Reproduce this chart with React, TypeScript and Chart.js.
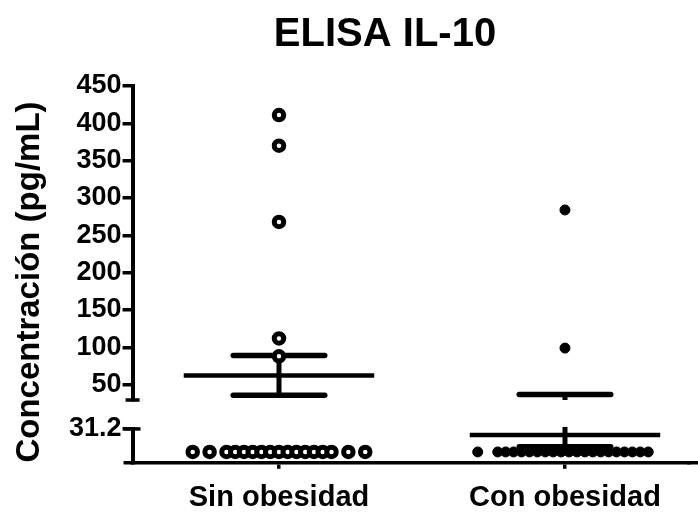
import React, { useEffect, useRef } from "react";
import { Chart, registerables } from "chart.js";

Chart.register(...registerables);

const FONT_FAMILY = "'Liberation Sans', Arial, Helvetica, sans-serif";

const CHART_TITLE = "ELISA IL-10";
const Y_AXIS_TITLE = "Concentración (pg/mL)";
const CATEGORIES = ["Sin obesidad", "Con obesidad"];

// broken y axis: upper and lower segments
const UPPER_TICKS = [50, 100, 150, 200, 250, 300, 350, 400, 450];
const LOWER_TICKS = [31.2];
const UPPER_MIN = 29.5;
const UPPER_MAX = 450;
const LOWER_MIN = 0;
const LOWER_MAX = 31.2;

// individual values (pg/mL)
const SIN_HIGH = [411, 370, 268, 112, 88];
const SIN_LOW = [10, 10, 10, 10, 10, 10, 10, 10, 10, 10, 10, 10, 10, 10, 10, 10, 10];
const CON_HIGH = [284, 99];
const CON_LOW = [10, 10, 10, 10, 10, 10, 10, 10, 10, 10, 10, 10, 10, 10, 10, 10, 10, 10, 10, 10, 10];

// mean and SEM per group
const MEANS = [62.4, 25.7];
const SEMS = [26.6, 11.0];

// horizontal spreading of a row of coincident points (category units)
function rowOffsets(nLeft: number, nInner: number, nRight: number, innerGap: number, outerGap: number, shift = 0): number[] {
  const out: number[] = [];
  const half = (nInner - 1) / 2;
  for (let k = nLeft; k >= 1; k--) out.push(shift - half * innerGap - k * outerGap);
  for (let i = 0; i < nInner; i++) out.push(shift + (i - half) * innerGap);
  for (let k = 1; k <= nRight; k++) out.push(shift + half * innerGap + k * outerGap);
  return out;
}

function toPoints(center: number, values: number[], offsets?: number[]) {
  return values.map((v, i) => ({ x: center + (offsets ? offsets[i] : 0), y: v }));
}

const MEAN_HALF = 0.333;
const CAP_HALF = 0.16;

function yPixel(chart: any, v: number) {
  return v > LOWER_MAX ? chart.scales.yUp.getPixelForValue(v) : chart.scales.yLow.getPixelForValue(v);
}

const meanSemPlugin = {
  id: "meanSem",
  beforeDatasetsDraw(chart: any) {
    const { ctx } = chart;
    const xs = chart.scales.x;
    const up = chart.scales.yUp;
    const lo = chart.scales.yLow;
    ctx.save();
    ctx.strokeStyle = "#000";
    MEANS.forEach((m, i) => {
      const c = i + 1;
      const cx = xs.getPixelForValue(c);
      const hi = m + SEMS[i];
      const lw = m - SEMS[i];
      // vertical bar, split across the axis break
      ctx.lineWidth = 5;
      ctx.lineCap = "butt";
      if (lw < LOWER_MAX) {
        ctx.beginPath();
        ctx.moveTo(cx, lo.getPixelForValue(Math.max(lw, LOWER_MIN)));
        ctx.lineTo(cx, lo.getPixelForValue(Math.min(hi, LOWER_MAX)) - 2);
        ctx.stroke();
      }
      if (hi > LOWER_MAX) {
        ctx.beginPath();
        ctx.moveTo(cx, up.getPixelForValue(Math.max(lw, UPPER_MIN)));
        ctx.lineTo(cx, up.getPixelForValue(hi));
        ctx.stroke();
      }
      // mean
      ctx.lineWidth = 4.5;
      const my = yPixel(chart, m);
      ctx.beginPath();
      ctx.moveTo(xs.getPixelForValue(c - MEAN_HALF), my);
      ctx.lineTo(xs.getPixelForValue(c + MEAN_HALF), my);
      ctx.stroke();
      // SEM caps
      ctx.lineWidth = 5.5;
      ctx.lineCap = "round";
      [hi, lw].forEach((v) => {
        const y = yPixel(chart, v);
        ctx.beginPath();
        ctx.moveTo(xs.getPixelForValue(c - CAP_HALF), y);
        ctx.lineTo(xs.getPixelForValue(c + CAP_HALF), y);
        ctx.stroke();
      });
    });
    ctx.restore();
  },
};

const decorPlugin = {
  id: "decor",
  afterDraw(chart: any) {
    const { ctx, chartArea, width } = chart;
    const up = chart.scales.yUp;
    const lo = chart.scales.yLow;
    ctx.save();
    ctx.strokeStyle = "#000";
    ctx.lineCap = "butt";
    ctx.lineWidth = 3.5;
    const ax = up.right;
    // break caps
    ctx.beginPath();
    ctx.moveTo(ax - 7, up.bottom);
    ctx.lineTo(ax + 7, up.bottom);
    ctx.stroke();
    ctx.beginPath();
    ctx.moveTo(ax - 9, lo.top);
    ctx.lineTo(ax + 8, lo.top);
    ctx.stroke();
    // x axis runs slightly past the y axis and to the right edge
    ctx.beginPath();
    ctx.moveTo(ax - 9, chartArea.bottom);
    ctx.lineTo(ax, chartArea.bottom);
    ctx.moveTo(chartArea.right - 1, chartArea.bottom);
    ctx.lineTo(width, chartArea.bottom);
    ctx.stroke();
    // titles
    ctx.fillStyle = "#000";
    ctx.font = `bold 40px ${FONT_FAMILY}`;
    ctx.textAlign = "center";
    ctx.textBaseline = "alphabetic";
    ctx.fillText(CHART_TITLE, 385, 46);
    ctx.font = `bold 33px ${FONT_FAMILY}`;
    ctx.translate(39, 282);
    ctx.rotate(-Math.PI / 2);
    ctx.fillText(Y_AXIS_TITLE, 0, 0);
    ctx.restore();
  },
};

export default function App() {
  const ref = useRef<HTMLCanvasElement | null>(null);
  useEffect(() => {
    if (!ref.current) return;
    const sinLowOff = rowOffsets(2, 13, 2, 0.0306, 0.059);
    const conLowOff = rowOffsets(1, 20, 0, 0.0277, 0.07, 0.028);
    const openStyle = {
      pointRadius: 4.75,
      pointBorderWidth: 5,
      pointBackgroundColor: "#fff",
      pointBorderColor: "#000",
      showLine: false,
      clip: false as const,
    };
    const filledStyle = {
      pointRadius: 5,
      pointBorderWidth: 1,
      pointBackgroundColor: "#000",
      pointBorderColor: "#000",
      showLine: false,
      clip: false as const,
    };
    const tickFont = { family: FONT_FAMILY, size: 27, weight: "bold" as const };
    const chart = new Chart(ref.current, {
      type: "scatter",
      data: {
        datasets: [
          { label: "Sin obesidad", data: toPoints(1, SIN_HIGH), yAxisID: "yUp", ...openStyle },
          { label: "Sin obesidad (bajo)", data: toPoints(1, SIN_LOW, sinLowOff), yAxisID: "yLow", ...openStyle },
          { label: "Con obesidad", data: toPoints(2, CON_HIGH), yAxisID: "yUp", ...filledStyle },
          { label: "Con obesidad (bajo)", data: toPoints(2, CON_LOW, conLowOff), yAxisID: "yLow", ...filledStyle },
        ],
      },
      options: {
        animation: false,
        responsive: false,
        events: [],
        layout: { padding: { top: 86, left: 68, right: 0, bottom: -13.6 } },
        plugins: { legend: { display: false }, tooltip: { enabled: false }, title: { display: false } },
        scales: {
          x: {
            type: "linear",
            position: "bottom",
            min: 0.488,
            max: 2.431,
            afterBuildTicks: (s: any) => {
              s.ticks = CATEGORIES.map((_, i) => ({ value: i + 1 }));
            },
            ticks: {
              color: "#000",
              font: { family: FONT_FAMILY, size: 29, weight: "bold" },
              padding: 12,
              autoSkip: false,
              maxRotation: 0,
              callback: (v: any) => CATEGORIES[Math.round(Number(v)) - 1] ?? "",
            },
            grid: { display: true, drawOnChartArea: false, drawTicks: true, tickLength: 6, color: "#000", lineWidth: 3.5 },
            border: { display: true, color: "#000", width: 3.5 },
          },
          yUp: {
            type: "linear",
            position: "left",
            stack: "yb",
            stackWeight: 315,
            weight: 3,
            min: UPPER_MIN,
            max: UPPER_MAX,
            afterBuildTicks: (s: any) => {
              s.ticks = UPPER_TICKS.map((v) => ({ value: v }));
            },
            ticks: { color: "#000", font: tickFont, padding: 1, autoSkip: false, callback: (v: any) => String(v) },
            grid: { display: true, drawOnChartArea: false, drawTicks: true, tickLength: 10, color: "#000", lineWidth: 3.5 },
            border: { display: true, color: "#000", width: 4 },
          },
          yGap: {
            type: "linear",
            position: "left",
            stack: "yb",
            stackWeight: 29,
            weight: 2,
            min: 0,
            max: 1,
            ticks: { display: false },
            grid: { display: false },
            border: { display: false },
          },
          yLow: {
            type: "linear",
            position: "left",
            stack: "yb",
            stackWeight: 34,
            weight: 1,
            min: LOWER_MIN,
            max: LOWER_MAX,
            afterBuildTicks: (s: any) => {
              s.ticks = LOWER_TICKS.map((v) => ({ value: v }));
            },
            ticks: { color: "#000", font: tickFont, padding: 1, autoSkip: false, callback: (v: any) => String(v) },
            grid: { display: true, drawOnChartArea: false, drawTicks: true, tickLength: 10, color: "#000", lineWidth: 3.5 },
            border: { display: true, color: "#000", width: 4 },
          },
        },
      },
      plugins: [meanSemPlugin, decorPlugin],
    });
    return () => chart.destroy();
  }, []);
  return (
    <div style={{ position: "fixed", left: 0, top: 0, width: 698, height: 514, background: "#fff" }}>
      <canvas ref={ref} width={698} height={514} style={{ display: "block" }} />
    </div>
  );
}
